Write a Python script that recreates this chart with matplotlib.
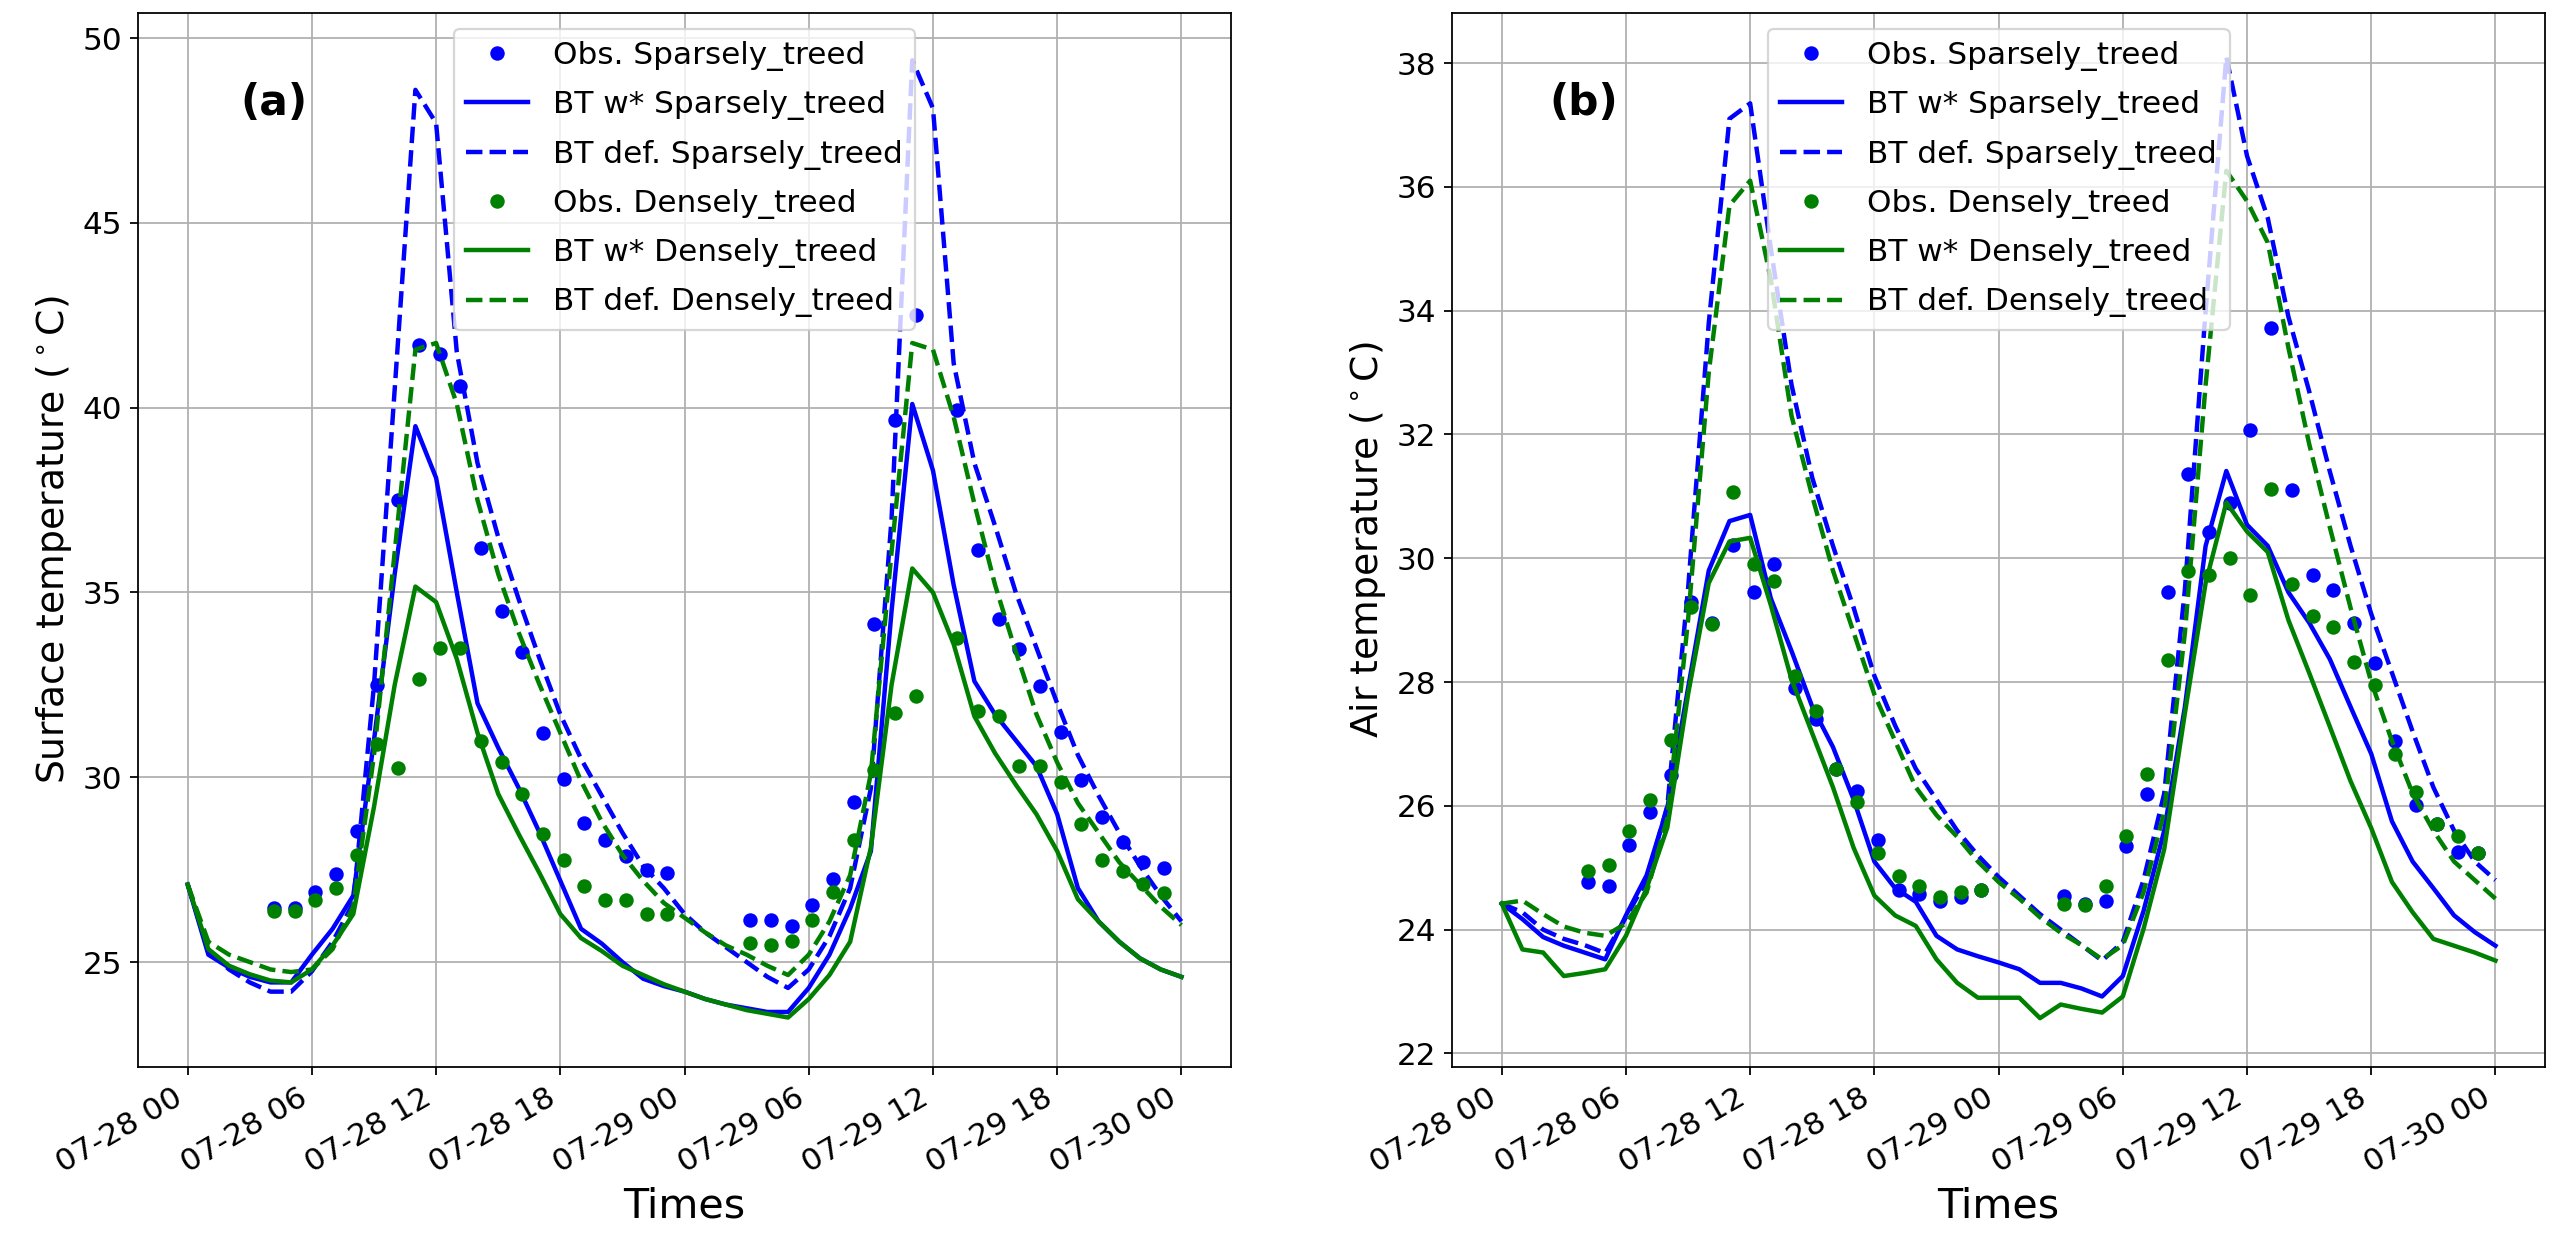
import matplotlib
matplotlib.use("Agg")
import matplotlib.pyplot as plt
import matplotlib.dates as mdates
import numpy as np
import pandas as pd

# hourly model times and observation times (obs taken ~10 min past the hour)
times = pd.date_range("2021-07-28 00:00", periods=49, freq="h")
obs_hours_a = list(range(4, 24)) + list(range(27, 36)) + list(range(37, 48))
obs_hours_b = list(range(4, 24)) + list(range(27, 48))

# (a) surface temperature
obs_sparse_a = [26.46, 26.46, 26.9, 27.37, 28.55, 32.5, 37.5, 41.7, 41.45, 40.6,
                36.2, 34.5, 33.4, 31.2, 29.95, 28.77, 28.3, 27.88, 27.5, 27.4,
                26.13, 26.13, 25.98, 26.55, 27.24, 29.33, 34.16, 39.66, 42.52,
                39.93, 36.16, 34.29, 33.47, 32.47, 31.23, 29.92, 28.92, 28.24, 27.7, 27.55]
obs_dense_a = [26.37, 26.37, 26.68, 27.0, 27.9, 30.9, 30.24, 32.65, 33.5, 33.5,
               30.97, 30.4, 29.55, 28.46, 27.77, 27.06, 26.68, 26.68, 26.31, 26.31,
               25.51, 25.45, 25.58, 26.15, 26.9, 28.31, 30.19, 31.74, 32.2,
               33.78, 31.8, 31.65, 30.3, 30.3, 29.88, 28.73, 27.77, 27.46, 27.1, 26.86]
btw_sparse_a = [27.1, 25.2, 24.85, 24.6, 24.45, 24.45, 25.2, 25.9, 26.8, 31.0,
                35.5, 39.5, 38.1, 35.0, 32.0, 30.8, 29.7, 28.5, 27.2, 25.9,
                25.5, 25.0, 24.55, 24.35, 24.2, 24.0, 23.85, 23.75, 23.65, 23.65,
                24.3, 25.2, 26.45, 28.0, 34.5, 40.1, 38.3, 35.2, 32.6, 31.7,
                31.0, 30.3, 29.0, 27.0, 26.1, 25.55, 25.1, 24.8, 24.6]
btdef_sparse_a = [27.1, 25.3, 24.8, 24.45, 24.2, 24.2, 24.75, 25.55, 26.6, 32.5,
                  40.5, 48.6, 47.7, 41.5, 38.5, 36.5, 34.8, 33.2, 31.7, 30.5,
                  29.5, 28.5, 27.6, 27.0, 26.3, 25.8, 25.4, 25.0, 24.6, 24.3,
                  24.8, 25.7, 27.0, 29.7, 37.0, 49.4, 48.1, 41.2, 38.5, 36.8,
                  35.0, 33.5, 32.0, 30.6, 29.5, 28.5, 27.6, 26.8, 26.1]
btw_dense_a = [27.1, 25.35, 24.9, 24.67, 24.5, 24.45, 24.8, 25.45, 26.3, 29.2,
               32.5, 35.16, 34.74, 33.2, 31.2, 29.55, 28.45, 27.4, 26.3, 25.65,
               25.3, 24.9, 24.65, 24.4, 24.2, 24.0, 23.85, 23.7, 23.6, 23.5,
               24.0, 24.65, 25.55, 28.1, 32.5, 35.65, 35.0, 33.6, 31.65, 30.65,
               29.8, 29.0, 28.0, 26.7, 26.1, 25.55, 25.1, 24.8, 24.6]
btdef_dense_a = [27.1, 25.55, 25.2, 25.0, 24.8, 24.73, 24.8, 25.35, 26.5, 30.6,
                 36.1, 41.57, 41.75, 40.1, 37.5, 35.5, 33.9, 32.5, 31.2, 29.9,
                 28.8, 27.9, 27.2, 26.6, 26.2, 25.8, 25.45, 25.2, 24.9, 24.65,
                 25.2, 26.1, 27.35, 30.1, 36.1, 41.75, 41.57, 39.75, 37.4, 35.2,
                 33.4, 31.7, 30.4, 29.3, 28.5, 27.7, 27.1, 26.5, 26.0]

# (b) air temperature
obs_sparse_b = [24.77, 24.7, 25.37, 25.9, 26.5, 29.3, 28.95, 30.22, 29.45, 29.9,
                27.9, 27.4, 26.6, 26.24, 25.45, 24.64, 24.57, 24.47, 24.53, 24.64,
                24.55, 24.42, 24.47, 25.35, 26.19, 29.45, 31.36, 30.43, 30.9, 32.07,
                33.72, 31.1, 29.73, 29.48, 28.96, 28.3, 27.04, 26.02, 25.7, 25.26, 25.23]
obs_dense_b = [24.94, 25.04, 25.59, 26.1, 27.06, 29.21, 28.93, 31.07, 29.9, 29.64,
               28.1, 27.54, 26.6, 26.06, 25.23, 24.86, 24.7, 24.53, 24.6, 24.64,
               24.42, 24.39, 24.7, 25.51, 26.51, 28.36, 29.8, 29.73, 30.0, 29.4,
               31.12, 29.58, 29.07, 28.89, 28.33, 27.95, 26.84, 26.22, 25.7, 25.51, 25.23]
btw_sparse_b = [24.42, 24.17, 23.88, 23.74, 23.63, 23.52, 24.23, 24.88, 25.97, 27.9,
                29.8, 30.6, 30.7, 29.35, 28.5, 27.6, 26.95, 26.1, 25.1, 24.67,
                24.45, 23.9, 23.68, 23.57, 23.47, 23.36, 23.14, 23.14, 23.05, 22.92,
                23.25, 24.3, 25.6, 27.6, 30.2, 31.41, 30.54, 30.2, 29.45, 28.96,
                28.37, 27.6, 26.84, 25.75, 25.1, 24.67, 24.23, 23.96, 23.74]
btdef_sparse_b = [24.42, 24.28, 24.0, 23.85, 23.75, 23.62, 24.2, 24.8, 26.0, 29.5,
                  33.8, 37.1, 37.35, 35.0, 32.8, 31.3, 30.2, 29.2, 28.1, 27.3,
                  26.6, 26.1, 25.6, 25.2, 24.85, 24.55, 24.25, 24.0, 23.75, 23.5,
                  23.8, 24.8, 26.2, 29.5, 34.0, 38.1, 36.5, 35.5, 33.9, 32.7,
                  31.4, 30.2, 29.1, 28.15, 27.2, 26.3, 25.6, 25.1, 24.8]
btw_dense_b = [24.42, 23.68, 23.63, 23.25, 23.3, 23.36, 23.9, 24.67, 25.65, 27.8,
               29.6, 30.27, 30.33, 29.24, 28.04, 27.17, 26.3, 25.32, 24.55, 24.23,
               24.06, 23.52, 23.14, 22.9, 22.9, 22.9, 22.57, 22.79, 22.72, 22.66,
               22.92, 24.01, 25.3, 27.5, 29.6, 30.9, 30.43, 30.1, 29.0, 28.15,
               27.28, 26.4, 25.64, 24.77, 24.28, 23.85, 23.74, 23.63, 23.5]
btdef_dense_b = [24.42, 24.47, 24.25, 24.05, 23.95, 23.9, 24.1, 24.6, 25.8, 29.0,
                 33.0, 35.7, 36.1, 34.5, 32.3, 31.0, 29.8, 28.8, 27.8, 27.05,
                 26.3, 25.85, 25.5, 25.1, 24.77, 24.5, 24.2, 23.95, 23.75, 23.52,
                 23.75, 24.6, 25.9, 28.8, 32.8, 36.26, 35.77, 35.1, 33.4, 31.85,
                 30.5, 29.2, 28.0, 27.05, 26.2, 25.6, 25.1, 24.8, 24.5]


def obs_times(hours):
    return times[0] + pd.to_timedelta(np.array(hours) + 10 / 60, unit="h")


def draw_panel(ax, oh, obs_s, obs_d, w_s, d_s, w_d, d_d, ylab, tag, tag_x, ylim):
    ot = obs_times(oh)
    ax.plot(ot, obs_s, "o", color="blue", ms=5.5, label="Obs. Sparsely_treed")
    ax.plot(times, w_s, "-", color="blue", lw=2, label="BT w* Sparsely_treed")
    ax.plot(times, d_s, "--", color="blue", lw=2, label="BT def. Sparsely_treed")
    ax.plot(ot, obs_d, "o", color="green", ms=5.5, label="Obs. Densely_treed")
    ax.plot(times, w_d, "-", color="green", lw=2, label="BT w* Densely_treed")
    ax.plot(times, d_d, "--", color="green", lw=2, label="BT def. Densely_treed")
    ax.set_ylim(*ylim)
    ax.grid(True)
    ax.xaxis.set_major_locator(mdates.HourLocator(byhour=[0, 6, 12, 18]))
    ax.xaxis.set_major_formatter(mdates.DateFormatter("%m-%d %H"))
    ax.tick_params(labelsize=14)
    for lbl in ax.get_xticklabels():
        lbl.set_rotation(30)
        lbl.set_ha("right")
    ax.set_xlabel("Times", fontsize=18.5)
    ax.set_ylabel(ylab, fontsize=17)
    ax.legend(loc="upper center", fontsize=14, labelspacing=0.62)
    ax.text(tag_x, 0.915, tag, transform=ax.transAxes, fontsize=19,
            fontweight="bold", va="center", ha="left")


fig = plt.figure(figsize=(16, 7.8625), dpi=160)
ax1 = fig.add_axes([0.0539, 0.1518, 0.427, 0.8379])
ax2 = fig.add_axes([0.5672, 0.1518, 0.427, 0.8379])

draw_panel(ax1, obs_hours_a, obs_sparse_a, obs_dense_a, btw_sparse_a, btdef_sparse_a,
           btw_dense_a, btdef_dense_a, r"Surface temperature ($^\circ$C)", "(a)", 0.094,
           (22.16, 50.68))
draw_panel(ax2, obs_hours_b, obs_sparse_b, obs_dense_b, btw_sparse_b, btdef_sparse_b,
           btw_dense_b, btdef_dense_b, r"Air temperature ($^\circ$C)", "(b)", 0.089,
           (21.78, 38.81))

fig.savefig("out.png", dpi=160)
